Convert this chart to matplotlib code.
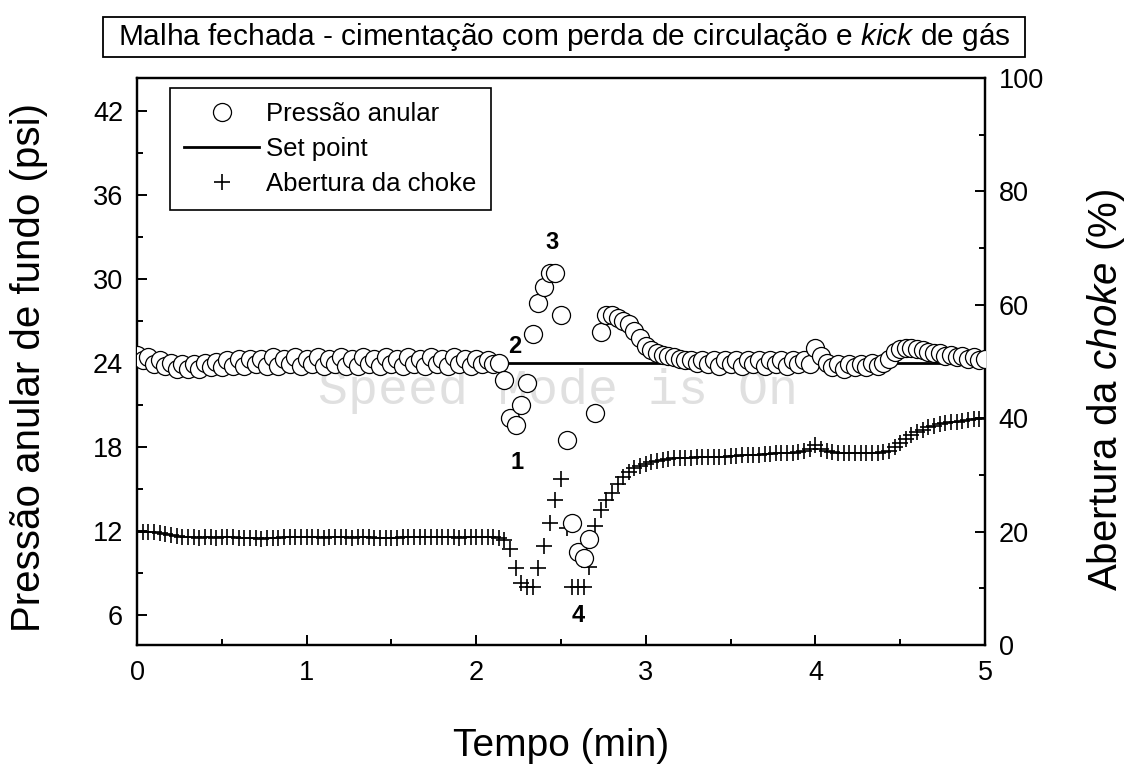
import matplotlib
matplotlib.use('Agg')
import matplotlib.pyplot as plt
from matplotlib.lines import Line2D
from matplotlib.patches import Rectangle
from matplotlib.ticker import MultipleLocator
import numpy as np

plt.rcParams['font.family'] = ['Liberation Sans', 'DejaVu Sans']
plt.rcParams['mathtext.fontset'] = 'custom'
plt.rcParams['mathtext.rm'] = 'Liberation Sans'
plt.rcParams['mathtext.it'] = 'Liberation Sans:italic'

# amostragem a cada 2 s (tempo em minutos)
tempo = np.arange(151) / 30.0

# pressao anular de fundo (psi)
pressao = [
    24.6, 24.2, 24.4, 23.9, 24.2, 23.8, 24.0, 23.6, 23.9, 23.6,
    23.9, 23.6, 24.0, 23.7, 24.1, 23.7, 24.2, 23.8, 24.3, 23.8,
    24.3, 23.9, 24.3, 23.8, 24.4, 23.8, 24.3, 23.9, 24.4, 23.8,
    24.3, 23.9, 24.4, 23.8, 24.3, 23.9, 24.4, 23.8, 24.3, 23.8,
    24.4, 23.9, 24.3, 23.8, 24.4, 23.9, 24.3, 23.8, 24.4, 23.9,
    24.3, 23.8, 24.4, 23.9, 24.3, 23.8, 24.4, 23.9, 24.3, 23.8,
    24.3, 23.9, 24.2, 23.9, 24.0, 22.8, 20.1, 19.6, 21.0, 22.6,
    26.1, 28.3, 29.4, 30.4, 30.4, 27.4, 18.5, 12.6, 10.5, 10.1,
    11.4, 20.4, 26.2, 27.4, 27.4, 27.2, 27.0, 26.8, 26.3, 25.8,
    25.2, 24.9, 24.7, 24.6, 24.5, 24.4, 24.3, 24.2, 24.2, 24.0,
    24.2, 23.9, 24.2, 23.8, 24.2, 23.9, 24.2, 23.8, 24.2, 23.9,
    24.2, 23.8, 24.2, 23.9, 24.2, 23.8, 24.2, 23.9, 24.2, 23.9,
    25.1, 24.5, 24.0, 23.7, 23.9, 23.6, 23.9, 23.7, 23.9, 23.7,
    24.0, 23.8, 24.0, 24.3, 24.8, 25.0, 25.1, 25.1, 25.0, 24.9,
    24.8, 24.7, 24.7, 24.5, 24.6, 24.4, 24.5, 24.3, 24.4, 24.2, 24.3,
]

# abertura da choke (%)
abertura = [
    20.0, 20.0, 19.9, 19.9, 19.8, 19.6, 19.4, 19.2, 19.1, 19.0,
    19.0, 18.9, 19.0, 19.0, 18.9, 19.0, 19.0, 19.0, 18.9, 18.9,
    18.8, 18.8, 18.7, 18.8, 18.8, 18.9, 19.0, 19.0, 19.0, 19.0,
    19.0, 19.0, 19.0, 18.9, 19.0, 19.0, 19.0, 19.0, 18.9, 19.0,
    19.0, 19.0, 18.9, 18.9, 18.8, 18.8, 18.9, 19.0, 19.0, 19.0,
    19.0, 19.0, 19.0, 19.0, 19.0, 19.0, 19.0, 18.9, 19.0, 19.0,
    19.0, 19.0, 19.0, 19.0, 18.9, 18.5, 17.0, 13.5, 11.0, 10.2,
    10.2, 13.5, 17.5, 21.5, 25.5, 29.3, 20.6, 10.2, 10.2, 10.2,
    13.8, 21.0, 23.8, 25.6, 26.8, 28.4, 29.6, 30.6, 31.2, 31.6,
    32.0, 32.2, 32.4, 32.6, 32.8, 32.9, 33.0, 33.0, 33.0, 33.1,
    33.1, 33.1, 33.2, 33.2, 33.2, 33.3, 33.4, 33.5, 33.5, 33.6,
    33.6, 33.7, 33.7, 33.8, 33.8, 33.9, 33.9, 34.0, 34.2, 34.6,
    35.3, 34.6, 34.2, 34.0, 33.9, 33.9, 33.8, 33.9, 33.9, 33.8,
    33.9, 33.9, 34.0, 34.3, 35.0, 35.7, 36.4, 37.0, 37.5, 38.0,
    38.4, 38.7, 39.0, 39.2, 39.3, 39.4, 39.5, 39.7, 39.8, 39.9, 40.0,
]

set_point = 24.0

# rotulos dos eventos: (texto, tempo, pressao)
eventos = [('1', 2.24, 16.9), ('2', 2.23, 25.2), ('3', 2.45, 32.6), ('4', 2.60, 6.0)]

fig = plt.figure(figsize=(11.28, 7.67), dpi=100)
ax = fig.add_axes([0.1215, 0.159, 0.7517, 0.7393])
ax2 = ax.twinx()

ax.plot([0, 5], [set_point, set_point], color='black', lw=2.0, zorder=2)
ax.plot(tempo, pressao, 'o', ms=13, mfc='white', mec='black', mew=0.9, zorder=3)
ax2.plot(tempo, abertura, '+', ms=12, color='black', mew=1.2, zorder=3)

for txt, x, y in eventos:
    ax.text(x, y, txt, fontsize=17, fontweight='bold', ha='center', va='center', zorder=5)

ax.text(2.48, 22.0, 'Speed Mode is On', family='Liberation Mono', fontsize=36,
        color='#e0e0e0', ha='center', va='center', zorder=1)

ax.set_xlim(0, 5)
ax.set_ylim(3.86, 44.36)
ax2.set_ylim(0, 100)
ax.set_zorder(1)
ax.patch.set_visible(False)
ax2.set_zorder(0)

ax.xaxis.set_major_locator(MultipleLocator(1))
ax.xaxis.set_minor_locator(MultipleLocator(0.5))
ax.yaxis.set_major_locator(MultipleLocator(6))
ax.yaxis.set_minor_locator(MultipleLocator(3))
ax2.yaxis.set_major_locator(MultipleLocator(20))
ax2.yaxis.set_minor_locator(MultipleLocator(10))

for a in (ax, ax2):
    for s in a.spines.values():
        s.set_linewidth(1.6)
    a.tick_params(which='both', direction='in', width=1.4, labelsize=19.5)
    a.tick_params(which='major', length=7)
    a.tick_params(which='minor', length=4)
ax.tick_params(axis='y', which='both', right=False, pad=10)
ax.tick_params(axis='x', which='both', top=False, pad=11)
ax2.tick_params(axis='y', which='both', left=False, pad=10)

ax.set_xlabel('Tempo (min)', fontsize=28)
ax.xaxis.set_label_coords(0.5, -0.146)
ax.set_ylabel('Pressão anular de fundo (psi)', fontsize=29)
ax.yaxis.set_label_coords(-0.105, 0.49)
ax2.set_ylabel(r'Abertura da $\it{choke}$ (%)', fontsize=29)
ax2.yaxis.set_label_coords(1.118, 0.45)

handles = [
    Line2D([], [], ls='none', marker='o', ms=13, mfc='white', mec='black', mew=0.9),
    Line2D([], [], color='black', lw=2.0),
    Line2D([], [], ls='none', marker='+', ms=12, color='black', mew=1.2),
]
labels = ['Pressão anular', 'Set point', 'Abertura da choke']
leg = ax.legend(handles, labels, loc='upper left', bbox_to_anchor=(0.039, 0.982),
                fontsize=18.5, frameon=True, fancybox=False, edgecolor='black',
                framealpha=1, borderpad=0.55, labelspacing=0.42, handlelength=2.9,
                handletextpad=0.3, borderaxespad=0)
leg.get_frame().set_linewidth(1.2)

fig.patches.append(Rectangle((0.0913, 0.9257), 0.8174, 0.0522, transform=fig.transFigure,
                             fill=False, edgecolor='black', lw=1.3))
fig.text(0.5, 0.9518, r'Malha fechada - cimentação com perda de circulação e $\it{kick}$ de gás',
         fontsize=21.5, ha='center', va='center')

fig.savefig('out.png', dpi=100)
